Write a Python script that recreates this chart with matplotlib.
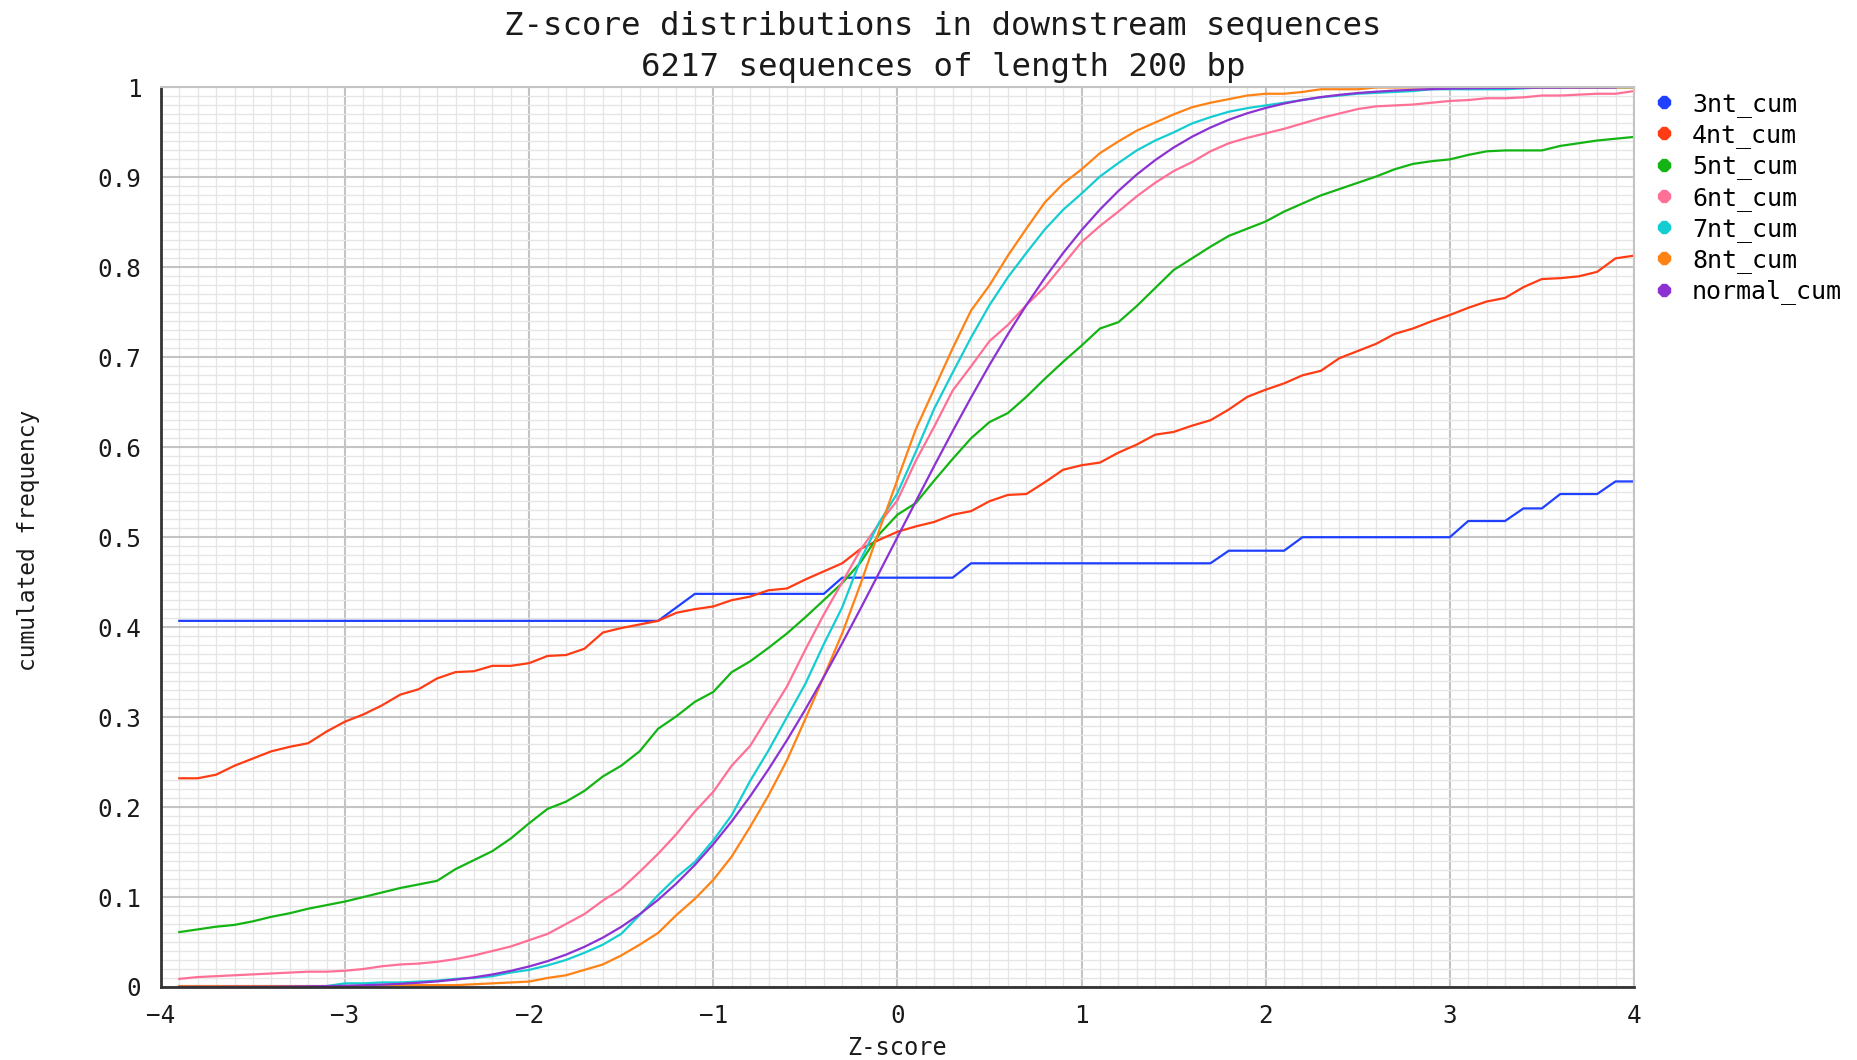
import matplotlib
matplotlib.use('Agg')
import matplotlib.pyplot as plt
import numpy as np
from matplotlib.ticker import MultipleLocator, FuncFormatter
from matplotlib.lines import Line2D

# Z-score grid the cumulated frequencies were read at (-3.9 .. 4.0)
z_scores = np.round(np.arange(-3.9, 4.05, 0.1), 1)

series_names = ['3nt_cum', '4nt_cum', '5nt_cum', '6nt_cum', '7nt_cum', '8nt_cum', 'normal_cum']

cum_3nt = [
    0.407, 0.407, 0.407, 0.407, 0.407, 0.407, 0.407, 0.407, 0.407, 0.407,
    0.407, 0.407, 0.407, 0.407, 0.407, 0.407, 0.407, 0.407, 0.407, 0.407,
    0.407, 0.407, 0.407, 0.407, 0.407, 0.407, 0.407, 0.422, 0.437, 0.437,
    0.437, 0.437, 0.437, 0.437, 0.437, 0.437, 0.455, 0.455, 0.455, 0.455,
    0.455, 0.455, 0.455, 0.471, 0.471, 0.471, 0.471, 0.471, 0.471, 0.471,
    0.471, 0.471, 0.471, 0.471, 0.471, 0.471, 0.471, 0.485, 0.485, 0.485,
    0.485, 0.500, 0.500, 0.500, 0.500, 0.500, 0.500, 0.500, 0.500, 0.500,
    0.518, 0.518, 0.518, 0.532, 0.532, 0.548, 0.548, 0.548, 0.562, 0.562,
]
cum_4nt = [
    0.232, 0.232, 0.236, 0.246, 0.254, 0.262, 0.267, 0.271, 0.284, 0.295,
    0.303, 0.313, 0.325, 0.331, 0.343, 0.350, 0.351, 0.357, 0.357, 0.360,
    0.368, 0.369, 0.376, 0.394, 0.399, 0.403, 0.407, 0.416, 0.420, 0.423,
    0.430, 0.434, 0.441, 0.443, 0.453, 0.462, 0.471, 0.487, 0.497, 0.506,
    0.512, 0.517, 0.525, 0.529, 0.540, 0.547, 0.548, 0.561, 0.575, 0.580,
    0.583, 0.594, 0.603, 0.614, 0.617, 0.624, 0.630, 0.642, 0.656, 0.664,
    0.671, 0.680, 0.685, 0.699, 0.707, 0.715, 0.726, 0.732, 0.740, 0.747,
    0.755, 0.762, 0.766, 0.778, 0.787, 0.788, 0.790, 0.795, 0.810, 0.813,
]
cum_5nt = [
    0.061, 0.064, 0.067, 0.069, 0.073, 0.078, 0.082, 0.087, 0.091, 0.095,
    0.100, 0.105, 0.110, 0.114, 0.118, 0.131, 0.141, 0.151, 0.165, 0.182,
    0.198, 0.206, 0.218, 0.234, 0.246, 0.262, 0.287, 0.301, 0.317, 0.328,
    0.350, 0.362, 0.377, 0.393, 0.411, 0.430, 0.449, 0.472, 0.503, 0.525,
    0.538, 0.563, 0.587, 0.610, 0.628, 0.638, 0.656, 0.676, 0.695, 0.713,
    0.732, 0.739, 0.757, 0.777, 0.797, 0.810, 0.823, 0.835, 0.843, 0.851,
    0.862, 0.871, 0.880, 0.887, 0.894, 0.901, 0.909, 0.915, 0.918, 0.920,
    0.925, 0.929, 0.930, 0.930, 0.930, 0.935, 0.938, 0.941, 0.943, 0.945,
]
cum_6nt = [
    0.009, 0.011, 0.012, 0.013, 0.014, 0.015, 0.016, 0.017, 0.017, 0.018,
    0.020, 0.023, 0.025, 0.026, 0.028, 0.031, 0.035, 0.040, 0.045, 0.052,
    0.059, 0.070, 0.081, 0.096, 0.109, 0.128, 0.148, 0.170, 0.195, 0.217,
    0.246, 0.268, 0.301, 0.334, 0.375, 0.414, 0.450, 0.486, 0.515, 0.541,
    0.585, 0.623, 0.663, 0.690, 0.718, 0.736, 0.758, 0.778, 0.803, 0.828,
    0.846, 0.862, 0.879, 0.894, 0.907, 0.917, 0.929, 0.938, 0.944, 0.949,
    0.954, 0.960, 0.966, 0.971, 0.976, 0.979, 0.980, 0.981, 0.983, 0.985,
    0.986, 0.988, 0.988, 0.989, 0.991, 0.991, 0.992, 0.993, 0.993, 0.996,
]
cum_7nt = [
    0.001, 0.001, 0.001, 0.001, 0.001, 0.001, 0.001, 0.001, 0.001, 0.004,
    0.004, 0.005, 0.005, 0.006, 0.007, 0.009, 0.010, 0.012, 0.016, 0.019,
    0.024, 0.030, 0.038, 0.047, 0.059, 0.080, 0.102, 0.122, 0.139, 0.163,
    0.191, 0.229, 0.263, 0.300, 0.337, 0.381, 0.422, 0.475, 0.516, 0.549,
    0.595, 0.643, 0.683, 0.722, 0.758, 0.789, 0.816, 0.842, 0.864, 0.882,
    0.901, 0.916, 0.930, 0.941, 0.950, 0.960, 0.967, 0.973, 0.977, 0.980,
    0.983, 0.986, 0.989, 0.991, 0.993, 0.994, 0.995, 0.996, 0.998, 0.998,
    0.998, 0.998, 0.998, 0.999, 1.000, 1.000, 1.000, 1.000, 1.000, 1.000,
]
cum_8nt = [
    0.001, 0.001, 0.001, 0.001, 0.001, 0.001, 0.001, 0.001, 0.001, 0.001,
    0.001, 0.002, 0.002, 0.002, 0.002, 0.002, 0.003, 0.004, 0.005, 0.006,
    0.010, 0.013, 0.019, 0.025, 0.035, 0.047, 0.060, 0.080, 0.098, 0.119,
    0.145, 0.178, 0.213, 0.252, 0.298, 0.345, 0.393, 0.448, 0.507, 0.564,
    0.620, 0.665, 0.710, 0.752, 0.780, 0.813, 0.843, 0.872, 0.893, 0.909,
    0.927, 0.940, 0.952, 0.961, 0.970, 0.978, 0.983, 0.987, 0.991, 0.993,
    0.993, 0.995, 0.998, 0.998, 0.998, 1.000, 1.000, 1.000, 1.000, 1.000,
    1.000, 1.000, 1.000, 1.000, 1.000, 1.000, 1.000, 1.000, 1.000, 1.000,
]
# normal curve stops at 3.9
cum_normal = [
    0.0000, 0.0001, 0.0001, 0.0002, 0.0002, 0.0003, 0.0005, 0.0007, 0.0010, 0.0013,
    0.0019, 0.0026, 0.0035, 0.0047, 0.0062, 0.0082, 0.0107, 0.0139, 0.0179, 0.0228,
    0.0287, 0.0359, 0.0446, 0.0548, 0.0668, 0.0808, 0.0968, 0.1151, 0.1357, 0.1587,
    0.1841, 0.2119, 0.2420, 0.2743, 0.3085, 0.3446, 0.3821, 0.4207, 0.4602, 0.5000,
    0.5398, 0.5793, 0.6179, 0.6554, 0.6915, 0.7257, 0.7580, 0.7881, 0.8159, 0.8413,
    0.8643, 0.8849, 0.9032, 0.9192, 0.9332, 0.9452, 0.9554, 0.9641, 0.9713, 0.9772,
    0.9821, 0.9861, 0.9893, 0.9918, 0.9938, 0.9953, 0.9965, 0.9974, 0.9981, 0.9987,
    0.9990, 0.9993, 0.9995, 0.9997, 0.9998, 0.9998, 0.9999, 0.9999, 1.0000,
]

all_series = [cum_3nt, cum_4nt, cum_5nt, cum_6nt, cum_7nt, cum_8nt, cum_normal]
colors = ['#2040ff', '#ff3c14', '#14b414', '#ff7096', '#14cdd2', '#ff8214', '#8c32d2']

mono = 'DejaVu Sans Mono'
text_col = '#1a1a1a'

fig = plt.figure(figsize=(18.58, 10.60), dpi=100)
ax = fig.add_axes([0.0866, 0.0689, 0.7928, 0.8486])

for name, vals, col in zip(series_names, all_series, colors):
    ax.plot(z_scores[:len(vals)], vals, color=col, lw=1.6, label=name, clip_on=False)

ax.set_xlim(-4, 4)
ax.set_ylim(0, 1)

ax.xaxis.set_major_locator(MultipleLocator(1))
ax.xaxis.set_minor_locator(MultipleLocator(0.1))
ax.yaxis.set_major_locator(MultipleLocator(0.1))
ax.yaxis.set_minor_locator(MultipleLocator(0.01))
ax.yaxis.set_major_formatter(FuncFormatter(lambda v, p: f'{v:g}'))

ax.grid(which='minor', color='#e6e6e6', lw=1.0)
ax.grid(which='major', color='#c4c4c4', lw=1.5)
ax.set_axisbelow(True)

ax.tick_params(which='both', length=0, labelsize=17.5, colors=text_col)
ax.tick_params(axis='y', pad=14)
ax.tick_params(axis='x', pad=12)
for lab in ax.get_xticklabels() + ax.get_yticklabels():
    lab.set_family(mono)

for side in ['left', 'bottom']:
    ax.spines[side].set_color('#333333')
    ax.spines[side].set_linewidth(2)
for side in ['top', 'right']:
    ax.spines[side].set_color('#c4c4c4')
    ax.spines[side].set_linewidth(1.5)

ax.set_xlabel('Z-score', family=mono, fontsize=17, color=text_col)
ax.xaxis.label.set_va('center')
ax.xaxis.set_label_coords(0.5, -0.068)
ax.set_ylabel('cumulated frequency', family=mono, fontsize=16.5, color=text_col)
ax.yaxis.label.set_va('center')
ax.yaxis.set_label_coords(-0.09, 0.497)

fig.text(0.5075, 1 - 26.5 / 1060, 'Z-score distributions in downstream sequences',
         ha='center', va='center', family=mono, fontsize=23.3, color=text_col)
fig.text(0.5075, 1 - 67.5 / 1060, '6217 sequences of length 200 bp',
         ha='center', va='center', family=mono, fontsize=23.3, color=text_col)

handles = [Line2D([], [], ls='none', marker='8', ms=9, color=c) for c in colors]
ax.legend(handles, series_names, loc='upper left',
          bbox_to_anchor=(1654 / 1858, 1 - 92 / 1060), bbox_transform=fig.transFigure,
          frameon=False, borderpad=0, borderaxespad=0, handlelength=0.8,
          handletextpad=0.72, labelspacing=0.25,
          prop={'family': mono, 'size': 18})

fig.savefig('out.png', dpi=100)
